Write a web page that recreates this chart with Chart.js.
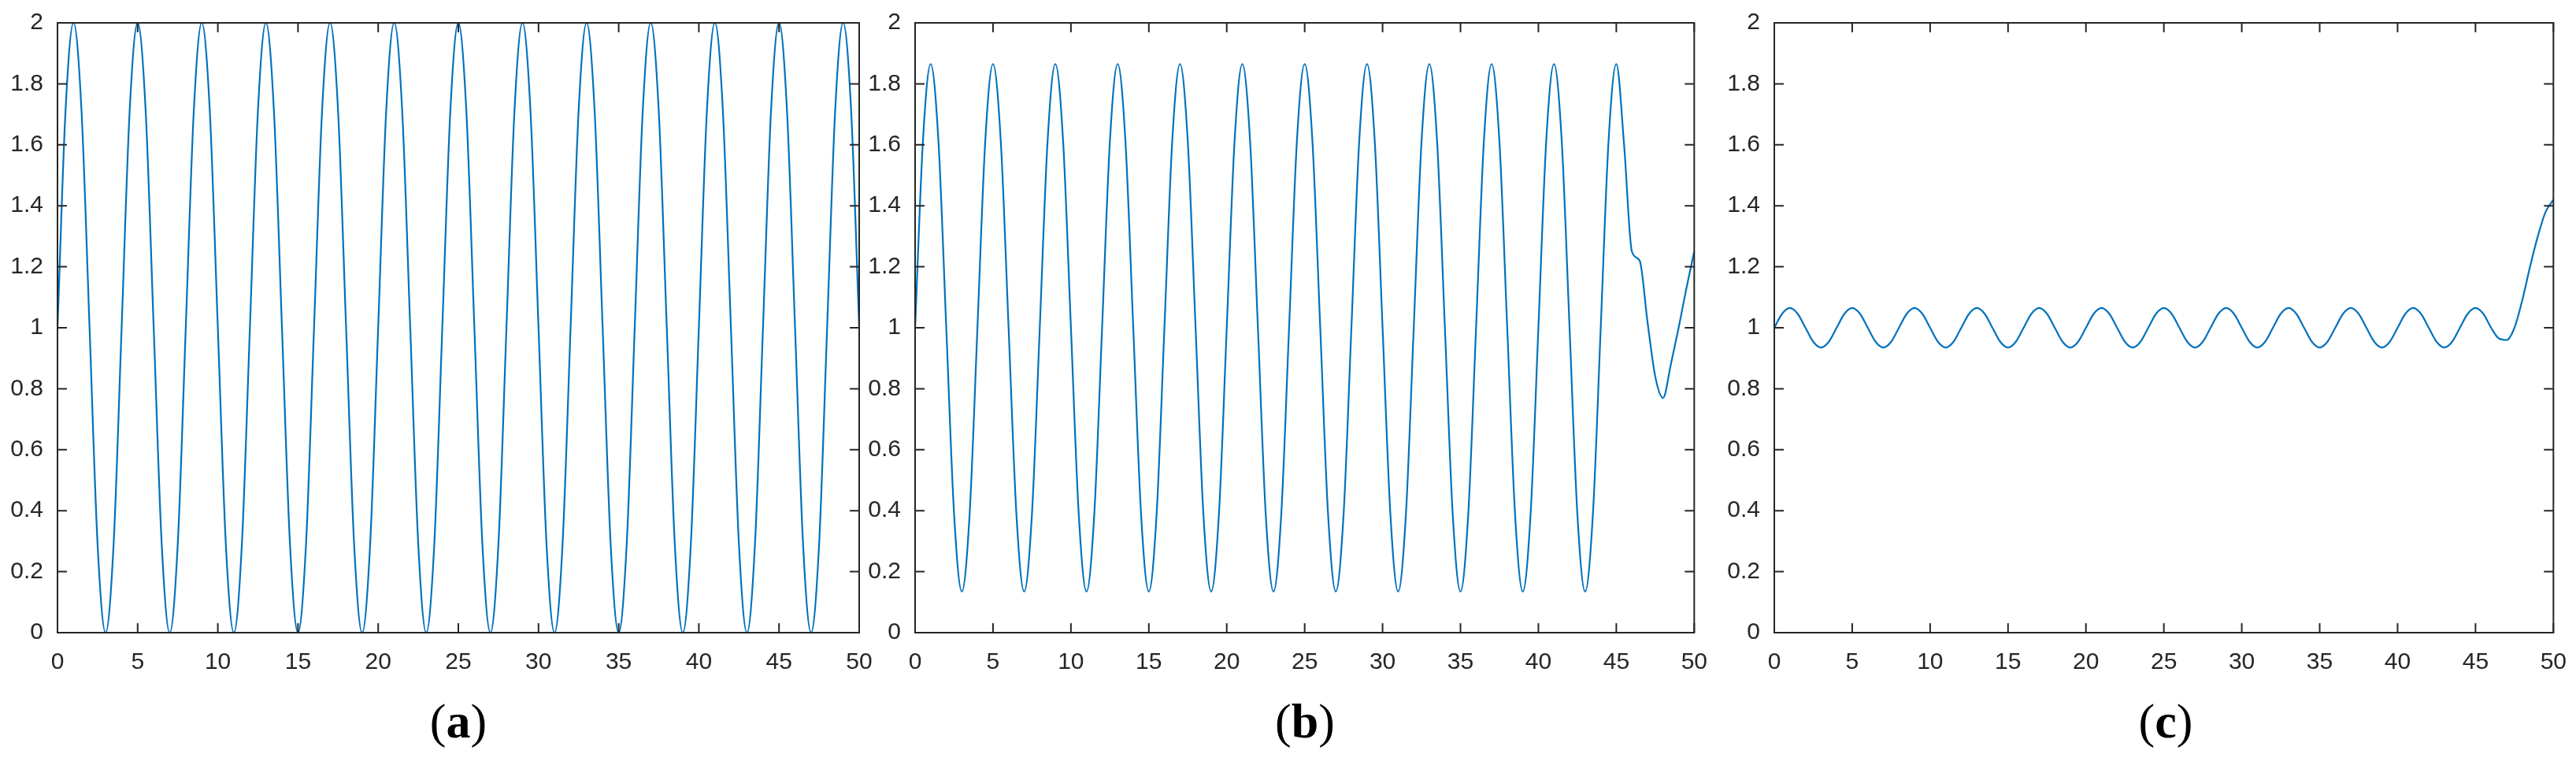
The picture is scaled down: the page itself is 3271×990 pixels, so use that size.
<!DOCTYPE html>
<html>
<head>
<meta charset="utf-8">
<script src="https://cdn.jsdelivr.net/npm/chart.js@4/dist/chart.umd.min.js"></script>
<style>
  body { margin: 0; background: #fff; width: 3271px; height: 990px; position: relative; overflow: hidden; }
  .pane { position: absolute; top: 0; height: 870px; }
  .cap { position: absolute; top: 880px; font-family: "Liberation Serif", serif; font-size: 62px; color: #000; text-align: center; width: 200px; }
</style>
</head>
<body>
<div class="pane" style="left:0;width:1120px"><canvas id="ca"></canvas></div>
<div class="pane" style="left:1100px;width:1080px"><canvas id="cb"></canvas></div>
<div class="pane" style="left:2190px;width:1081px"><canvas id="cc"></canvas></div>
<div class="cap" style="left:482px">(<b>a</b>)</div>
<div class="cap" style="left:1557px">(<b>b</b>)</div>
<div class="cap" style="left:2650px">(<b>c</b>)</div>
<script>
// x sampled every 0.5 from 0 to 50
const xs = []
for (let i = 0; i <= 100; i++) xs.push(i / 2)

const rep = (arr, n) => [].concat(...Array(n).fill(arr))

const seriesA = rep([1, 1.71, 2, 1.71, 1, 0.29, 0, 0.29], 12)
	.concat([1, 1.71, 2, 1.71, 1])
const seriesB = rep([1, 1.61, 1.865, 1.61, 1, 0.39, 0.135, 0.39], 11)
	.concat([1, 1.61, 1.865, 1.6, 1.25, 1.22, 1.02, 0.84, 0.77, 0.88, 1.0, 1.13, 1.25])
const seriesC = rep([1, 1.046, 1.065, 1.046, 1, 0.954, 0.935, 0.954], 11)
	.concat([1, 1.046, 1.065, 1.046, 1.0, 0.965, 0.96, 1.0, 1.09, 1.2, 1.3, 1.38, 1.42])

const xTicks = [0, 5, 10, 15, 20, 25, 30, 35, 40, 45, 50]
const yTicks = [0, 0.2, 0.4, 0.6, 0.8, 1, 1.2, 1.4, 1.6, 1.8, 2]

const boxPlugin = {
	id: 'box',
	afterDraw(chart) {
		const { ctx, chartArea: a, scales } = chart
		ctx.save()
		ctx.strokeStyle = '#262626'
		ctx.lineWidth = 2
		ctx.strokeRect(a.left, a.top, a.right - a.left, a.bottom - a.top)
		const t = 12
		ctx.beginPath()
		xTicks.forEach(v => {
			const p = scales.x.getPixelForValue(v)
			ctx.moveTo(p, a.bottom); ctx.lineTo(p, a.bottom - t)
			ctx.moveTo(p, a.top); ctx.lineTo(p, a.top + t)
		})
		yTicks.forEach(v => {
			const p = scales.y.getPixelForValue(v)
			ctx.moveTo(a.left, p); ctx.lineTo(a.left + t, p)
			ctx.moveTo(a.right, p); ctx.lineTo(a.right - t, p)
		})
		ctx.stroke()
		ctx.restore()
	}
}

function makeChart(id, values, yWidth, rightPad) {
	new Chart(document.getElementById(id), {
		type: 'line',
		data: {
			datasets: [{
				data: xs.map((x, i) => ({ x: x, y: values[i] })),
				borderColor: '#0072BD',
				borderWidth: 2.2,
				pointRadius: 0,
				tension: 0.4,
				cubicInterpolationMode: 'monotone'
			}]
		},
		options: {
			responsive: true,
			maintainAspectRatio: false,
			animation: false,
			layout: { padding: { top: 29, right: rightPad, left: 0, bottom: 0 } },
			plugins: { legend: { display: false }, tooltip: { enabled: false } },
			scales: {
				x: {
					type: 'linear', min: 0, max: 50,
					afterBuildTicks: s => { s.ticks = xTicks.map(v => ({ value: v })) },
					afterFit: s => { s.height = 67 },
					grid: { display: false },
					border: { display: false },
					ticks: { color: '#262626', font: { family: 'Liberation Sans', size: 30 }, padding: 12, maxRotation: 0, callback: v => String(v) }
				},
				y: {
					type: 'linear', min: 0, max: 2,
					afterBuildTicks: s => { s.ticks = yTicks.map(v => ({ value: v })) },
					afterFit: s => { s.width = yWidth },
					grid: { display: false },
					border: { display: false },
					ticks: { color: '#262626', font: { family: 'Liberation Sans', size: 30 }, padding: 10, callback: v => String(+v.toFixed(1)) }
				}
			}
		},
		plugins: [boxPlugin]
	})
}

makeChart('ca', seriesA, 73, 29)
makeChart('cb', seriesB, 62, 27)
makeChart('cc', seriesC, 63, 23)
</script>
</body>
</html>
